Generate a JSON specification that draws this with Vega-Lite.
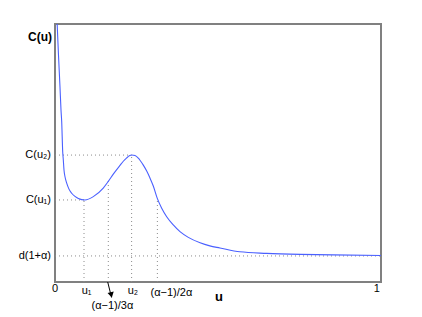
{
  "$schema": "https://vega.github.io/schema/vega-lite/v6.json",
  "width": 326,
  "height": 258,
  "autosize": "none",
  "padding": {"left": 55, "top": 24, "right": 41, "bottom": 35},
  "config": {
    "view": {"stroke": "#808080", "strokeWidth": 2},
    "font": "Liberation Sans",
    "text": {"font": "Liberation Sans", "fontSize": 11, "color": "#000000"}
  },
  "layer": [
    {
      "data": {"values": [
        {"x": 0, "y": 4.92, "x2": 0.235, "y2": 4.92},
        {"x": 0, "y": 3.18, "x2": 0.089, "y2": 3.18},
        {"x": 0, "y": 1.01, "x2": 1, "y2": 1.01},
        {"x": 0.089, "y": 0, "x2": 0.089, "y2": 3.18},
        {"x": 0.1635, "y": 0, "x2": 0.1635, "y2": 3.9},
        {"x": 0.235, "y": 0, "x2": 0.235, "y2": 4.92},
        {"x": 0.314, "y": 0, "x2": 0.314, "y2": 3.24}
      ]},
      "mark": {"type": "rule", "color": "#8c8c8c", "strokeWidth": 1, "strokeDash": [1, 3]},
      "encoding": {
        "x": {"field": "x", "type": "quantitative", "scale": {"domain": [0, 1], "nice": false, "zero": false}, "axis": null},
        "y": {"field": "y", "type": "quantitative", "scale": {"domain": [0, 10], "nice": false, "zero": false}, "axis": null},
        "x2": {"field": "x2"},
        "y2": {"field": "y2"}
      }
    },
    {
      "data": {"values": [
        {"x": 0.0061, "y": 10.16},
        {"x": 0.0107, "y": 8.8},
        {"x": 0.0153, "y": 7.56},
        {"x": 0.0184, "y": 6.67},
        {"x": 0.0206, "y": 6.2},
        {"x": 0.0236, "y": 5.05},
        {"x": 0.0255, "y": 4.73},
        {"x": 0.0276, "y": 4.34},
        {"x": 0.0307, "y": 4.08},
        {"x": 0.0359, "y": 3.83},
        {"x": 0.0429, "y": 3.6},
        {"x": 0.0512, "y": 3.44},
        {"x": 0.0613, "y": 3.32},
        {"x": 0.0715, "y": 3.24},
        {"x": 0.092, "y": 3.18},
        {"x": 0.1175, "y": 3.31},
        {"x": 0.148, "y": 3.64},
        {"x": 0.1635, "y": 3.9},
        {"x": 0.1788, "y": 4.18},
        {"x": 0.1994, "y": 4.52},
        {"x": 0.2095, "y": 4.68},
        {"x": 0.22, "y": 4.81},
        {"x": 0.228, "y": 4.89},
        {"x": 0.2353, "y": 4.92},
        {"x": 0.2454, "y": 4.9},
        {"x": 0.2555, "y": 4.8},
        {"x": 0.2607, "y": 4.72},
        {"x": 0.2709, "y": 4.53},
        {"x": 0.2813, "y": 4.3},
        {"x": 0.291, "y": 4.04},
        {"x": 0.3015, "y": 3.72},
        {"x": 0.3138, "y": 3.24},
        {"x": 0.3273, "y": 2.86},
        {"x": 0.3426, "y": 2.53},
        {"x": 0.3629, "y": 2.21},
        {"x": 0.3834, "y": 1.95},
        {"x": 0.4089, "y": 1.73},
        {"x": 0.445, "y": 1.52},
        {"x": 0.475, "y": 1.4},
        {"x": 0.506, "y": 1.32},
        {"x": 0.567, "y": 1.17},
        {"x": 0.649, "y": 1.11},
        {"x": 0.752, "y": 1.07},
        {"x": 0.853, "y": 1.05},
        {"x": 1.0, "y": 1.03}
      ]},
      "mark": {"type": "line", "color": "#4a60ff", "strokeWidth": 1.1, "interpolate": "monotone", "clip": true},
      "encoding": {
        "x": {"field": "x", "type": "quantitative"},
        "y": {"field": "y", "type": "quantitative"}
      }
    },
    {
      "data": {"values": [{"x": 0.1617, "y": 0, "x2": 0.1735, "y2": -0.6}]},
      "mark": {"type": "rule", "color": "#000000", "strokeWidth": 1},
      "encoding": {
        "x": {"field": "x", "type": "quantitative"},
        "y": {"field": "y", "type": "quantitative"},
        "x2": {"field": "x2"},
        "y2": {"field": "y2"}
      }
    },
    {
      "data": {"values": [{"x": 0.1725, "y": -0.5}]},
      "mark": {"type": "point", "shape": "triangle-down", "filled": true, "color": "#000000", "size": 40, "angle": 347, "opacity": 1},
      "encoding": {
        "x": {"field": "x", "type": "quantitative"},
        "y": {"field": "y", "type": "quantitative"}
      }
    },
    {
      "data": {"values": [
        {"t": "C(u₂)", "x": 0, "y": 4.92},
        {"t": "C(u₁)", "x": 0, "y": 3.18},
        {"t": "d(1+α)", "x": 0, "y": 1.01}
      ]},
      "mark": {"type": "text", "align": "right", "baseline": "middle", "dx": -4},
      "encoding": {
        "x": {"field": "x", "type": "quantitative"},
        "y": {"field": "y", "type": "quantitative"},
        "text": {"field": "t"}
      }
    },
    {
      "data": {"values": [{"t": "C(u)", "x": 0, "y": 9.5}]},
      "mark": {"type": "text", "align": "right", "baseline": "middle", "dx": -3, "fontWeight": "bold", "fontSize": 12},
      "encoding": {
        "x": {"field": "x", "type": "quantitative"},
        "y": {"field": "y", "type": "quantitative"},
        "text": {"field": "t"}
      }
    },
    {
      "data": {"values": [
        {"t": "0", "x": 0, "y": -0.28},
        {"t": "u₁", "x": 0.097, "y": -0.33},
        {"t": "u₂", "x": 0.239, "y": -0.33},
        {"t": "(α−1)/2α", "x": 0.357, "y": -0.43},
        {"t": "1", "x": 0.987, "y": -0.28},
        {"t": "(α−1)/3α", "x": 0.176, "y": -0.93}
      ]},
      "mark": {"type": "text", "align": "center", "baseline": "middle"},
      "encoding": {
        "x": {"field": "x", "type": "quantitative"},
        "y": {"field": "y", "type": "quantitative"},
        "text": {"field": "t"}
      }
    },
    {
      "data": {"values": [{"t": "u", "x": 0.503, "y": -0.58}]},
      "mark": {"type": "text", "align": "center", "baseline": "middle", "fontWeight": "bold", "fontSize": 13},
      "encoding": {
        "x": {"field": "x", "type": "quantitative"},
        "y": {"field": "y", "type": "quantitative"},
        "text": {"field": "t"}
      }
    }
  ]
}
